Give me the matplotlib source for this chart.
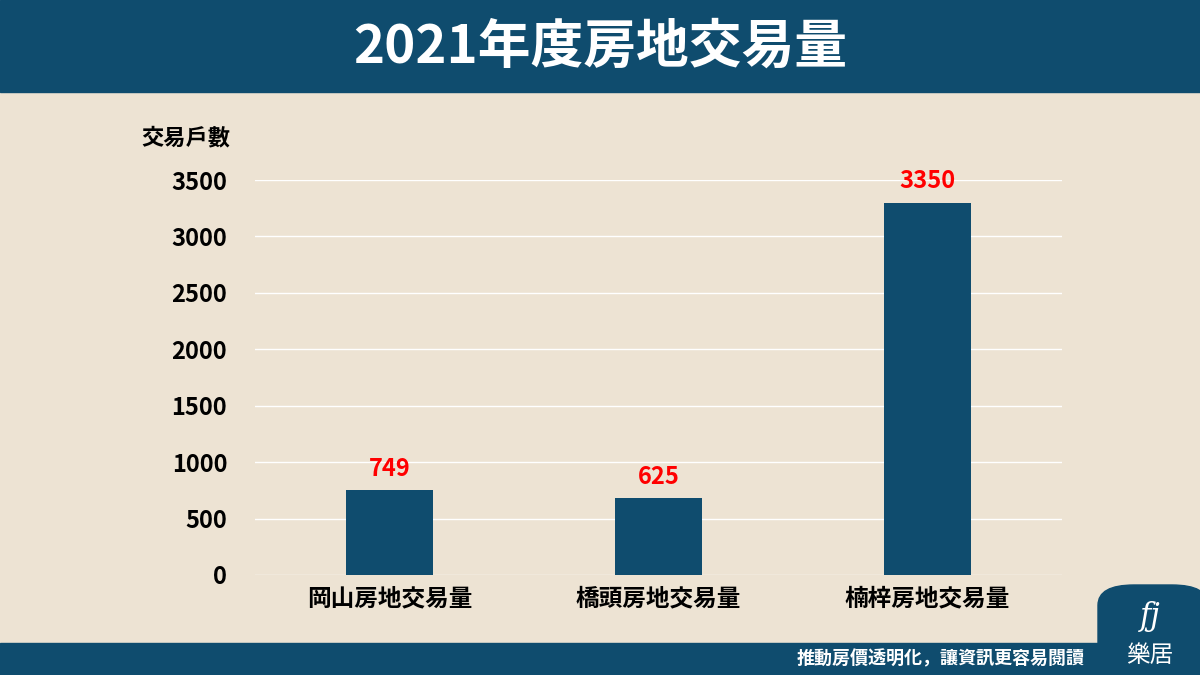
import matplotlib
matplotlib.use("Agg")
import matplotlib.pyplot as plt
from matplotlib.patches import Rectangle, FancyBboxPatch
from matplotlib import font_manager

names = {f.name for f in font_manager.fontManager.ttflist}
fams = [n for n in ["Noto Sans CJK TC", "Noto Sans CJK JP", "Noto Sans CJK SC", "Noto Sans CJK KR"] if n in names]
plt.rcParams["font.family"] = fams + ["DejaVu Sans"]

categories = ["岡山房地交易量", "橋頭房地交易量", "楠梓房地交易量"]
bar_values = [749, 680, 3295]
value_labels = ["749", "625", "3350"]
yticks = [0, 500, 1000, 1500, 2000, 2500, 3000, 3500]

W, H = 1200, 675
fig = plt.figure(figsize=(W/100, H/100), dpi=100)
fig.patch.set_facecolor("#ede3d3")
dark = "#0f4c6e"

fig.patches.append(Rectangle((0, 1-92/H), 1, 92/H, transform=fig.transFigure, color=dark, zorder=0))
fig.patches.append(Rectangle((0, 0), 1, 32/H, transform=fig.transFigure, color=dark, zorder=0))
fig.patches.append(FancyBboxPatch((1098/W, 0), 110/W, 90/H, boxstyle="round,pad=0,rounding_size=0.03",
                                  transform=fig.transFigure, color=dark, zorder=0))
fig.text(0.5, 1-47/H, "2021年度房地交易量", color="white", fontsize=38, fontweight="bold",
         ha="center", va="center")
fig.text(1085/W, 16/H, "推動房價透明化，讓資訊更容易閱讀", color="white", fontsize=13,
         fontweight="bold", ha="right", va="center")
fig.text(1150/W, 20/H, "樂居", color="white", fontsize=17, ha="center", va="center")
fig.text(1150/W, 58/H, "fj", color="white", fontsize=22, style="italic", ha="center", va="center",
         family="DejaVu Serif")
fig.text(186/W, 1-138/H, "交易戶數", color="black", fontsize=16, fontweight="bold",
         ha="center", va="center")

ax = fig.add_axes([255/W, 1-575/H, 807/W, 395/H])
ax.set_facecolor("#ede3d3")
x = range(len(categories))
ax.bar(x, bar_values, width=0.32, color=dark, zorder=2)
for xi, v, lab in zip(x, bar_values, value_labels):
    ax.annotate(lab, (xi, v), xytext=(0, 7), textcoords="offset points", ha="center",
                va="bottom", color="#ff0000", fontsize=17, fontweight="bold")
ax.set_xlim(-0.5, 2.5)
ax.set_ylim(0, 3500)
ax.set_yticks(yticks)
ax.set_yticklabels([str(t) for t in yticks], fontsize=17, fontweight="bold")
ax.set_xticks(list(x))
ax.set_xticklabels(categories, fontsize=17, fontweight="bold")
ax.grid(axis="y", color="white", linewidth=1, zorder=0)
for s in ax.spines.values():
    s.set_visible(False)
ax.tick_params(length=0, pad=8)
ax.tick_params(axis="y", pad=20)
fig.savefig("out.png", dpi=100, facecolor=fig.get_facecolor())
